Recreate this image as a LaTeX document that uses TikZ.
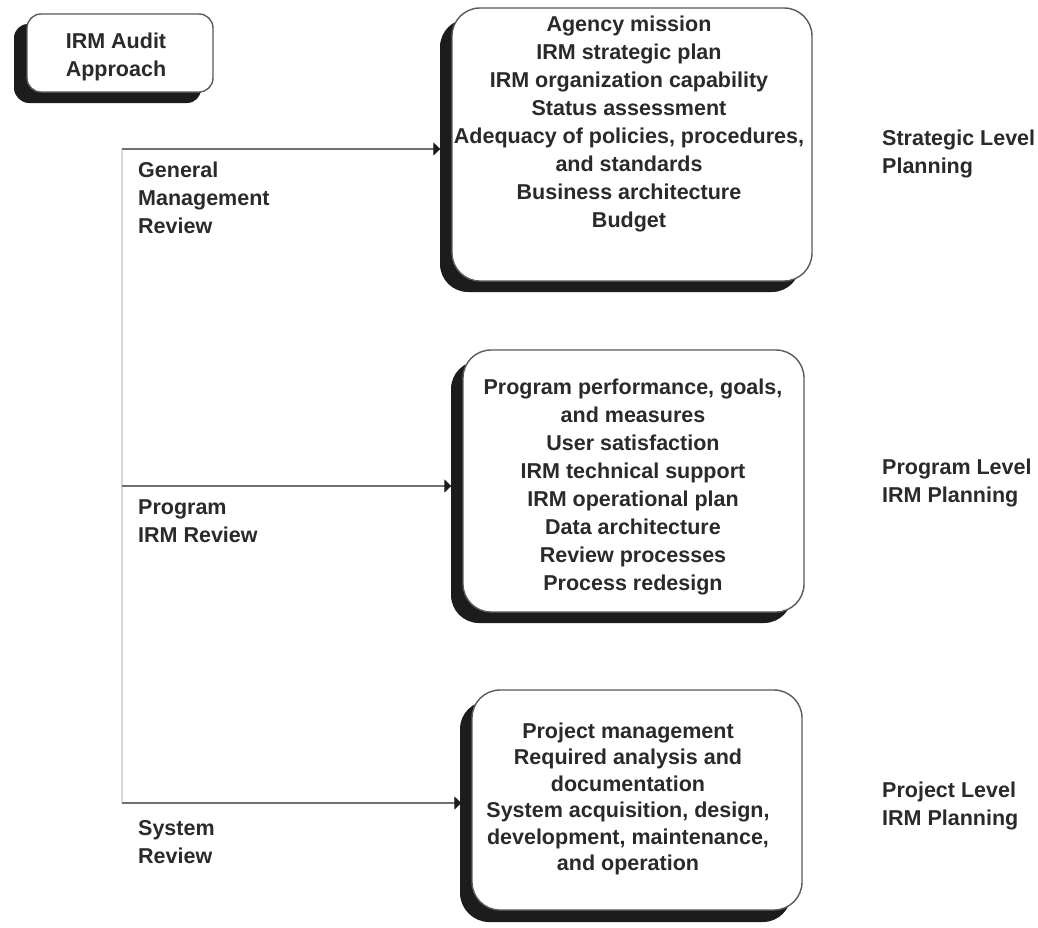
\documentclass[tikz,border=0pt]{standalone}
\usepackage{fontspec}
\setmainfont{Liberation Sans}
\usetikzlibrary{arrows.meta,shadows}
\definecolor{ink}{HTML}{2A2A2A}
\definecolor{edge}{HTML}{5A5A5A}
\definecolor{shade}{HTML}{1C1C1C}
\definecolor{linegray}{HTML}{707070}
\definecolor{vline}{HTML}{D6D6D6}
\begin{document}
\begin{tikzpicture}[x=1pt,y=-1pt,
  txt/.style={font=\bfseries\fontsize{21.5}{28}\selectfont, text=ink, inner sep=0pt, align=center},
  lbl/.style={font=\bfseries\fontsize{21.5}{28}\selectfont, text=ink, inner sep=0pt, align=left, anchor=west},
  card/.style={draw=edge, line width=1.4pt, fill=white, rounded corners=28pt, inner sep=0pt,
     drop shadow={shadow xshift=-12pt, shadow yshift=-11pt, fill=shade, opacity=1}},
  conn/.style={draw=linegray, line width=1.3pt, -{Triangle[length=7pt,width=13pt,color=shade]}},
  spine/.style={draw=vline, line width=1.2pt}
]
\fill[white] (0,0) rectangle (1038,927);
\useasboundingbox (0,0) rectangle (1038,927);

% boxes
\node[card, rounded corners=14pt, minimum width=186pt, minimum height=78pt, drop shadow={shadow xshift=-13pt, shadow yshift=-10pt, fill=shade, opacity=1}] (irm) at (120,53) {};
\node[txt] (irmt) at (116,57) {IRM Audit\\Approach};

\node[card, minimum width=360pt, minimum height=273pt] (b1) at (632,144.5) {};
\node[txt] (t1) at (629,124) {Agency mission\\IRM strategic plan\\IRM organization capability\\Status assessment\\Adequacy of policies, procedures,\\and standards\\Business architecture\\Budget};

\node[card, minimum width=341pt, minimum height=262pt] (b2) at (633.5,481) {};
\node[txt] (t2) at (633,487) {Program performance, goals,\\and measures\\User satisfaction\\IRM technical support\\IRM operational plan\\Data architecture\\Review processes\\Process redesign};

\node[card, minimum width=330pt, minimum height=220pt, drop shadow={shadow xshift=-11pt, shadow yshift=-12pt, fill=shade, opacity=1}] (b3) at (637,800) {};
\node[txt, font=\bfseries\fontsize{21.5}{26.5}\selectfont] (t3) at (628,799) {Project management\\Required analysis and\\documentation\\System acquisition, design,\\development, maintenance,\\and operation};

% left labels
\node[lbl] (l1) at (138,198) {General\\Management\\Review};
\node[lbl] (l2) at (138,521) {Program\\IRM Review};
\node[lbl] (l3) at (138,842) {System\\Review};

% right labels
\node[lbl] (r1) at (882,154) {Strategic Level\\Planning};
\node[lbl] (r2) at (882,483) {Program Level\\IRM Planning};
\node[lbl] (r3) at (882,806) {Project Level\\IRM Planning};

% connectors
\coordinate (j1) at (122,149);
\coordinate (j2) at (122,486);
\coordinate (j3) at (122,803);
\draw[spine] (j1) -- (j3);
\draw[conn, shorten >=11pt] (j1) -- (j1 -| b1.west);
\draw[conn, shorten >=11pt] (j2) -- (j2 -| b2.west);
\draw[conn, shorten >=10pt] (j3) -- (j3 -| b3.west);
\end{tikzpicture}
\end{document}
